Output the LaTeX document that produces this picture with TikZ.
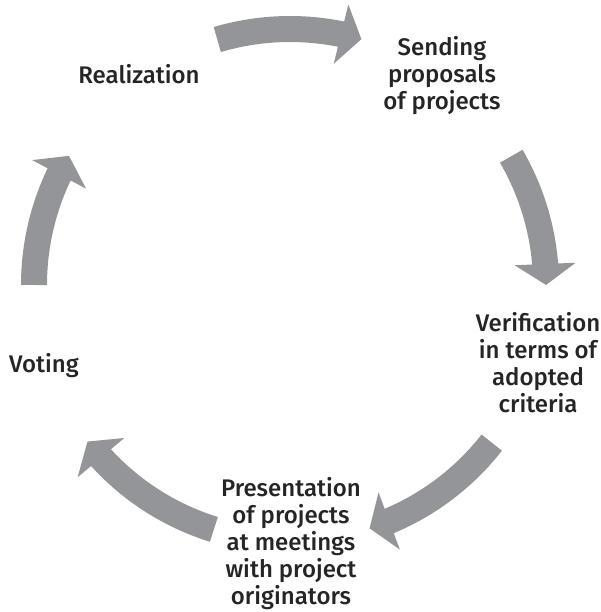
\documentclass[tikz,border=0pt]{standalone}
\usepackage{fontspec}
\setmainfont{Fira Sans}[UprightFont=* Medium]
\usetikzlibrary{arrows.meta,bending}
\definecolor{arrowgray}{RGB}{147,149,152}
\definecolor{textdark}{RGB}{38,36,37}

\begin{document}
\begin{tikzpicture}[x=1pt, y=1pt,
  stage/.style={text=textdark, font=\fontsize{24}{27}\selectfont, align=center, inner sep=0pt},
  cyclearrow/.style={draw=arrowgray, line width=26pt, -{Triangle[width=60pt,length=21pt]}}]
\useasboundingbox (0,0) rectangle (601,612);
\coordinate (c) at (290,327);
% stages of the cycle
\node[stage] (sending) at (442,536.5) {Sending\\proposals\\of projects};
\node[stage] (verification) at (538,249.5) {Verification\\in terms of\\adopted\\criteria};
\node[stage] (presentation) at (291,68.5) {Presentation\\of projects\\at meetings\\with project\\originators};
\node[stage, anchor=base] (voting) at (44,239) {Voting};
\node[stage, anchor=base] (realization) at (139,528) {Realization};
% arrows going round, clockwise
\foreach \name/\from/\to in {ra/106.5/73.8, sv/30.2/0, vp/-38/-71.9, pv/-107.3/-142.3, vr/180/149.7}
{
  \path (c) ++(\from:256) coordinate (\name);
  \draw[cyclearrow] (\name) arc[start angle=\from, end angle=\to, radius=256];
}
\end{tikzpicture}
\end{document}
